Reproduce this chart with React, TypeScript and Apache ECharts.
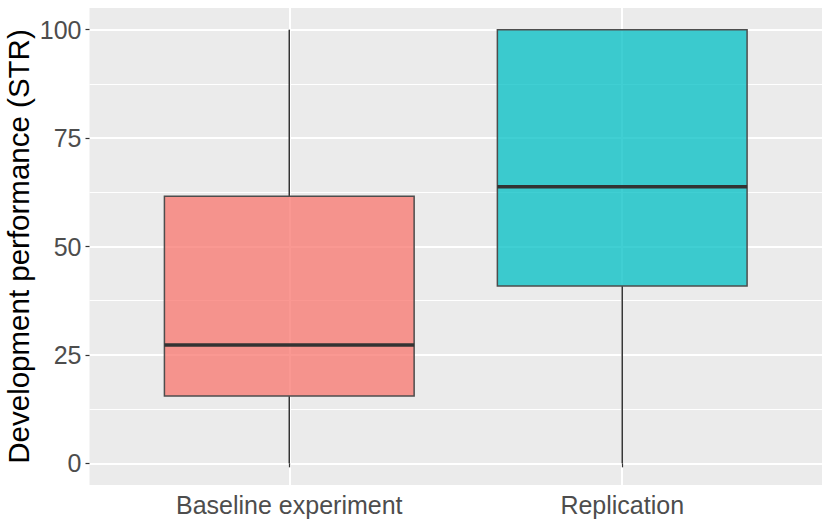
import React, { useEffect, useRef } from "react";
import * as echarts from "echarts";

const categories = ["Baseline experiment", "Replication"];
const whiskerLow = [0, 0];
const q1 = [15.5, 40.9];
const median = [27.3, 63.8];
const q3 = [61.6, 100];
const whiskerHigh = [100, 100];
const fills = ["rgba(248,118,109,0.75)", "rgba(0,191,196,0.75)"];
const yTicks = [0, 25, 50, 75, 100];
const yMinor = [12.5, 37.5, 62.5, 87.5];
const xPositions = [1, 2];

const FONT = "'Liberation Sans', Arial, Helvetica, sans-serif";

export default function App() {
  const ref = useRef<HTMLDivElement>(null);
  useEffect(() => {
    if (!ref.current) return;
    const chart = echarts.init(ref.current, null, { renderer: "svg" });
    const data = categories.map((c, i) => [
      xPositions[i],
      whiskerLow[i],
      q1[i],
      median[i],
      q3[i],
      whiskerHigh[i],
      i,
    ]);
    chart.setOption({
      animation: false,
      backgroundColor: "#ffffff",
      grid: {
        left: 89.5,
        right: 8,
        top: 8,
        bottom: 40,
        show: true,
        backgroundColor: "#EBEBEB",
        borderWidth: 0,
        containLabel: false,
        outerBoundsMode: "none",
      },
      xAxis: {
        type: "value",
        min: 0.4,
        max: 2.6,
        axisLine: { show: false },
        axisTick: {
          show: true,
          customValues: xPositions,
          length: 4,
          lineStyle: { color: "#333333", width: 1.2 },
        },
        axisLabel: {
          customValues: xPositions,
          formatter: (v: number) => categories[Math.round(v) - 1] ?? "",
          color: "#4D4D4D",
          fontSize: 25,
          fontFamily: FONT,
          margin: 7,
        },
        splitLine: { show: true, lineStyle: { color: "#FFFFFF", width: 2 } },
      },
      yAxis: [
        {
          type: "value",
          min: -5,
          max: 105,
          name: "Development performance (STR)",
          nameLocation: "middle",
          nameRotate: 90,
          nameGap: 56,
          nameMoveOverlap: false,
          nameTextStyle: { color: "#000000", fontSize: 29.5, fontFamily: FONT },
          axisLine: { show: false },
          axisTick: {
            show: true,
            customValues: yTicks,
            length: 4,
            lineStyle: { color: "#333333", width: 1.2 },
          },
          axisLabel: {
            customValues: yTicks,
            color: "#4D4D4D",
            fontSize: 25,
            fontFamily: FONT,
            margin: 8,
          },
          splitLine: { show: true, lineStyle: { color: "#FFFFFF", width: 2 } },
        },
        {
          type: "value",
          min: -5,
          max: 105,
          position: "left",
          axisLine: { show: false },
          axisTick: { show: false, customValues: yMinor },
          axisLabel: { show: false, customValues: yMinor },
          splitLine: { show: true, lineStyle: { color: "#FFFFFF", width: 1 } },
        },
      ],
      series: [
        {
          type: "custom",
          yAxisIndex: 0,
          data,
          renderItem: (params: any, api: any) => {
            const x = api.value(0);
            const lo = api.coord([x, api.value(1)]);
            const b1 = api.coord([x, api.value(2)]);
            const md = api.coord([x, api.value(3)]);
            const b3 = api.coord([x, api.value(4)]);
            const hi = api.coord([x, api.value(5)]);
            const idx = api.value(6);
            const w = api.size([0.75, 0])[0];
            const cx = lo[0];
            return {
              type: "group",
              children: [
                {
                  type: "line",
                  shape: { x1: cx, y1: lo[1], x2: cx, y2: b1[1] },
                  style: { stroke: "#333333", lineWidth: 1.5, lineCap: "butt" },
                },
                {
                  type: "line",
                  shape: { x1: cx, y1: b3[1], x2: cx, y2: hi[1] },
                  style: { stroke: "#333333", lineWidth: 1.5, lineCap: "butt" },
                },
                {
                  type: "rect",
                  shape: { x: cx - w / 2, y: b3[1], width: w, height: b1[1] - b3[1] },
                  style: { fill: fills[idx], stroke: "#4D4D4D", lineWidth: 1.5 },
                },
                {
                  type: "line",
                  shape: { x1: cx - w / 2, y1: md[1], x2: cx + w / 2, y2: md[1] },
                  style: { stroke: "#333333", lineWidth: 3.5 },
                },
              ],
            };
          },
        },
      ],
    });
    return () => chart.dispose();
  }, []);
  return (
    <div
      ref={ref}
      style={{ position: "fixed", left: 0, top: 0, width: 830, height: 525 }}
    />
  );
}
